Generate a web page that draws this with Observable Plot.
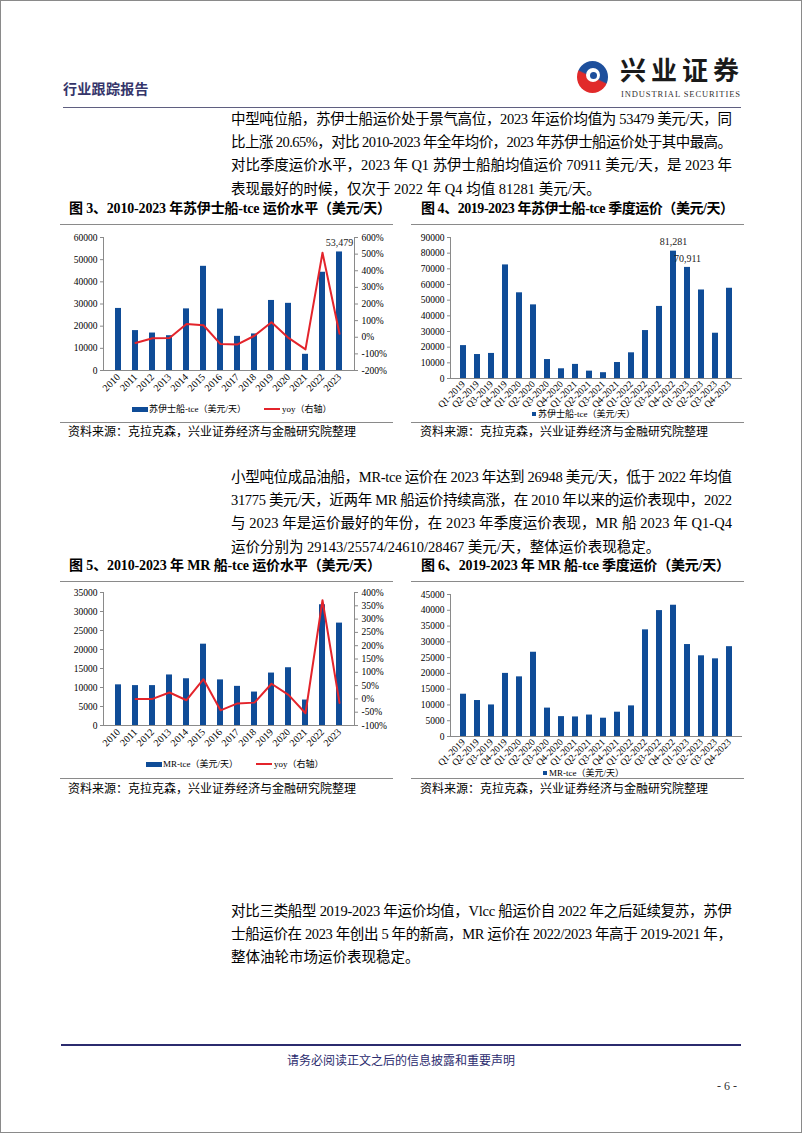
<!DOCTYPE html>
<html>
<head>
<meta charset="utf-8">
<script src="https://cdn.jsdelivr.net/npm/d3@7"></script>
<script src="https://cdn.jsdelivr.net/npm/@observablehq/plot@0.6"></script>
<style>
  html, body { margin: 0; padding: 0; background: #fff; }
  #page { position: relative; width: 800px; height: 1131px; border: 1px solid #8a8a8a; overflow: hidden;
          font-family: "Liberation Serif", "Times New Roman", "Noto Sans CJK SC", serif; color: #000; }
  .abs { position: absolute; }
  .line { position: absolute; height: 23.4px; line-height: 23.4px; font-size: 14.5px; white-space: nowrap; }
  .line span { display: inline-block; white-space: nowrap; }
  .ftitle { position: absolute; font-size: 14px; font-weight: bold; white-space: nowrap; line-height: 18px; }
  .ftitle span { display: inline-block; white-space: nowrap; }
  .rule { position: absolute; height: 0; border-top: 1px solid #8a8a8a; }
  .src { position: absolute; font-size: 12px; white-space: nowrap; line-height: 14px; }
  .legend { position: absolute; font-size: 9px; white-space: nowrap; line-height: 12px; display: flex; align-items: center; }
  .sw-bar { display: inline-block; width: 16px; height: 5px; background: #0f4c97; margin-right: 1px; }
  .sw-sq { display: inline-block; width: 4px; height: 4px; background: #0f4c97; margin-right: 2px; }
  .sw-line { display: inline-block; width: 16px; height: 2px; background: #e3242b; margin-right: 2px; margin-left: 18px; }
  .chart { position: absolute; }
  .chart svg { overflow: visible; }
</style>
</head>
<body>
<div id="page"></div>
<script>
// ---------------- DATA ----------------
const years = ["2010","2011","2012","2013","2014","2015","2016","2017","2018","2019","2020","2021","2022","2023"];
const quarters = ["Q1-2019","Q2-2019","Q3-2019","Q4-2019","Q1-2020","Q2-2020","Q3-2020","Q4-2020",
                  "Q1-2021","Q2-2021","Q3-2021","Q4-2021","Q1-2022","Q2-2022","Q3-2022","Q4-2022",
                  "Q1-2023","Q2-2023","Q3-2023","Q4-2023"];

// Fig 3: Suezmax TCE annual (USD/day) and yoy (%)
const suezAnnual = [28000,18000,16900,15700,27800,47000,27700,15400,16500,31600,30300,7300,44322,53479];
const suezYoy    = [null,-35,-6,-5,80,72,-41,-43,9,90,-4,-73,508,20.65];
const suezLeftTicks  = [0,10000,20000,30000,40000,50000,60000];
const suezRightTicks = [-200,-100,0,100,200,300,400,500,600];

// Fig 4: Suezmax TCE quarterly (USD/day)
const suezQuarter = [21000,15300,16000,72500,54700,47000,12100,6200,9000,4700,3700,10200,
                     16400,30600,46000,81281,70911,56500,28900,57600];
const suezQuarterLabels = {"Q4-2022":"81,281","Q1-2023":"70,911"};
const suezQLeftTicks = [0,10000,20000,30000,40000,50000,60000,70000,80000,90000];

// Fig 5: MR TCE annual (USD/day) and yoy (%)
const mrAnnual = [10700,10500,10500,13300,12300,21400,12000,10300,8800,13800,15200,6700,31775,26948];
const mrYoy    = [null,0,0,24,-5,74,-43,-17,-14,57,15,-54,371,-15];
const mrLeftTicks  = [0,5000,10000,15000,20000,25000,30000,35000];
const mrRightTicks = [-100,-50,0,50,100,150,200,250,300,350,400];

// Fig 6: MR TCE quarterly (USD/day)
const mrQuarter = [13400,11400,10000,20000,18900,26700,9000,6300,6200,6800,5800,7700,
                   9700,33800,39900,41600,29143,25574,24610,28467];
const mrQLeftTicks = [0,5000,10000,15000,20000,25000,30000,35000,40000,45000];

// Text
const para1 = [
  "中型吨位船，苏伊士船运价处于景气高位，2023 年运价均值为 53479 美元/天，同",
  "比上涨 20.65%，对比 2010-2023 年全年均价，2023 年苏伊士船运价处于其中最高。",
  "对比季度运价水平，2023 年 Q1 苏伊士船舶均值运价 70911 美元/天，是 2023 年",
  "表现最好的时候，仅次于 2022 年 Q4 均值 81281 美元/天。"
];
const para2 = [
  "小型吨位成品油船，MR-tce 运价在 2023 年达到 26948 美元/天，低于 2022 年均值",
  "31775 美元/天，近两年 MR 船运价持续高涨，在 2010 年以来的运价表现中，2022",
  "与 2023 年是运价最好的年份，在 2023 年季度运价表现，MR 船 2023 年 Q1-Q4",
  "运价分别为 29143/25574/24610/28467 美元/天，整体运价表现稳定。"
];
const para3 = [
  "对比三类船型 2019-2023 年运价均值，Vlcc 船运价自 2022 年之后延续复苏，苏伊",
  "士船运价在 2023 年创出 5 年的新高，MR 运价在 2022/2023 年高于 2019-2021 年，",
  "整体油轮市场运价表现稳定。"
];
const titles = [
  "图 3、2010-2023 年苏伊士船-tce 运价水平（美元/天）",
  "图 4、2019-2023 年苏伊士船-tce 季度运价（美元/天）",
  "图 5、2010-2023 年 MR 船-tce 运价水平（美元/天）",
  "图 6、2019-2023 年 MR 船-tce 季度运价（美元/天）"
];
const sourceText = "资料来源：克拉克森，兴业证券经济与金融研究院整理";

// ---------------- STYLE ----------------
const BLUE = "#0f4c97", RED = "#e3242b", AXIS = "#8a8a8a";
const FONT = "'Liberation Serif','Times New Roman',serif";
const page = document.getElementById("page");

function add(cls, html, css) {
  const d = document.createElement("div");
  d.className = cls; d.innerHTML = html; Object.assign(d.style, css);
  page.appendChild(d); return d;
}
function fit(span, target) {
  span.style.letterSpacing = "0px";
  const w = span.getBoundingClientRect().width;
  const n = [...span.textContent].length;
  span.style.letterSpacing = ((target - w) / (n - 1)) + "px";
}
function paragraph(lines, top, justifyLast) {
  lines.forEach((t, i) => {
    const d = add("line", `<span>${t}</span>`, {left: "230px", top: (top + i * 23.4) + "px"});
    if (i < lines.length - 1 || justifyLast) fit(d.firstChild, 501);
  });
}

// ---------------- HEADER ----------------
add("abs", "行业跟踪报告", {left: "62px", top: "77px", fontSize: "14px", fontWeight: "bold", color: "#35356a",
  fontFamily: "'Noto Sans CJK SC',sans-serif", letterSpacing: "0.3px"});
add("abs", "", {left: "576px", top: "60px", width: "31px", height: "32px", borderRadius: "50%",
  background: "linear-gradient(205deg, #1d4f9c 0 48%, #e12a2a 52% 100%)"});
add("abs", "", {left: "585px", top: "67px", width: "14px", height: "14px", borderRadius: "50%", background: "#fff"});
add("abs", "", {left: "589px", top: "71px", width: "7px", height: "7px", borderRadius: "50%", background: "#1d4f9c"});
const logoTxt = add("abs", "<span>兴业证券</span>", {left: "619px", top: "52px", fontSize: "26px", fontWeight: "bold",
  fontFamily: "'Noto Sans CJK SC',sans-serif", color: "#1a1a1a", lineHeight: "32px", whiteSpace: "nowrap"});
logoTxt.firstChild.style.display = "inline-block"; fit(logoTxt.firstChild, 119);
const logoSub = add("abs", "<span>INDUSTRIAL SECURITIES</span>", {left: "620px", top: "88px", fontSize: "8.5px",
  color: "#333", lineHeight: "10px", whiteSpace: "nowrap"});
logoSub.firstChild.style.display = "inline-block"; fit(logoSub.firstChild, 119);
add("abs", "", {left: "62px", top: "106px", width: "678px", height: "0", borderTop: "1.5px solid #5f5f80"});

// ---------------- BODY TEXT ----------------
paragraph(para1, 106.5, false);
paragraph(para2, 464.5, false);
paragraph(para3, 898.5, false);

// Figure titles
[[titles[0], 68, 199, 322], [titles[1], 420, 199, 313], [titles[2], 68, 556, 312], [titles[3], 420, 556, 309]]
  .forEach(([t, x, y, w]) => {
    const d = add("ftitle", `<span>${t}</span>`, {left: x + "px", top: y + "px"});
    fit(d.firstChild, w);
  });
// rules under titles and above sources
[[59, 223], [410, 223], [59, 580], [410, 580], [59, 421], [410, 421], [59, 777], [410, 777]].forEach(([x, y]) =>
  add("rule", "", {left: x + "px", top: y + "px", width: "333px"}));
[[67, 424], [419, 424], [67, 781], [419, 781]].forEach(([x, y]) => {
  const d = add("src", `<span style="display:inline-block">${sourceText}</span>`, {left: x + "px", top: y + "px"});
  fit(d.firstChild, 288);
});

// ---------------- CHARTS ----------------
const baseStyle = {fontFamily: FONT, fontSize: "9.5px", background: "transparent", color: "#000", overflow: "visible"};

function comboChart({cats, vals, yoy, leftTicks, rightTicks, yMax, rLo, rHi, left, top, height, mT, mB, label}) {
  const conv = v => (v - rLo) / (rHi - rLo) * yMax;
  const inv = v => Math.round(v / yMax * (rHi - rLo) + rLo);
  const data = cats.map((c, i) => ({cat: c, value: vals[i], yoy: yoy[i]}));
  const chart = Plot.plot({
    width: 340, height, marginLeft: 42, marginRight: 47, marginTop: mT, marginBottom: mB,
    style: baseStyle,
    x: {domain: cats, padding: 0.62, label: null},
    y: {domain: [0, yMax], label: null},
    marks: [
      Plot.barY(data, {x: "cat", y: "value", fill: BLUE}),
      Plot.ruleY([0], {stroke: AXIS}),
      Plot.frame({anchor: "left", stroke: AXIS}),
      Plot.frame({anchor: "right", stroke: AXIS}),
      Plot.line(data.filter(d => d.yoy != null), {x: "cat", y: d => conv(d.yoy), stroke: RED, strokeWidth: 2}),
      Plot.axisY(leftTicks, {anchor: "left", tickSize: 3, tickPadding: 3, stroke: AXIS, fill: "#000",
        tickFormat: d => String(d), label: null}),
      Plot.axisY(rightTicks.map(conv), {anchor: "right", tickSize: 3, tickPadding: 4, stroke: AXIS, fill: "#000",
        tickFormat: d => inv(d) + "%", label: null}),
      Plot.axisX({anchor: "bottom", tickRotate: -45, tickSize: 0, tickPadding: 5, fontSize: 10, fill: "#000", label: null}),
      ...(label ? [Plot.text(data.filter(d => d.cat === label.cat), {x: "cat", y: "value", text: () => label.text,
        dy: -9, fontSize: 10, fontFamily: FONT, fill: "#222"})] : [])
    ]
  });
  const wrap = add("chart", "", {left: left + "px", top: top + "px"});
  wrap.appendChild(chart);
}

function quarterChart({cats, vals, leftTicks, yMax, labels, left, top, height, mT, mB}) {
  const data = cats.map((c, i) => ({cat: c, value: vals[i], label: labels[c] || ""}));
  const chart = Plot.plot({
    width: 340, height, marginLeft: 39, marginRight: 9, marginTop: mT, marginBottom: mB,
    style: baseStyle,
    x: {domain: cats, padding: 0.56, label: null},
    y: {domain: [0, yMax], label: null},
    marks: [
      Plot.barY(data, {x: "cat", y: "value", fill: BLUE}),
      Plot.ruleY([0], {stroke: AXIS}),
      Plot.frame({anchor: "left", stroke: AXIS}),
      Plot.axisY(leftTicks, {anchor: "left", tickSize: 3, tickPadding: 3, stroke: AXIS, fill: "#000",
        tickFormat: d => String(d), label: null}),
      Plot.axisX({anchor: "bottom", tickRotate: -45, tickSize: 0, tickPadding: 4, fontSize: 9.5, fill: "#000", label: null}),
      Plot.text(data.filter(d => d.label), {x: "cat", y: "value", text: "label", dy: -9, fontSize: 10,
        fontFamily: FONT, fill: "#222"})
    ]
  });
  const wrap = add("chart", "", {left: left + "px", top: top + "px"});
  wrap.appendChild(chart);
}

// Fig 3
comboChart({cats: years, vals: suezAnnual, yoy: suezYoy, leftTicks: suezLeftTicks, rightTicks: suezRightTicks,
  yMax: 60000, rLo: -200, rHi: 600, left: 60, top: 228, height: 171, mT: 8, mB: 30,
  label: {cat: "2023", text: "53,479"}});
// Fig 4
quarterChart({cats: quarters, vals: suezQuarter, leftTicks: suezQLeftTicks, yMax: 90000, labels: suezQuarterLabels,
  left: 410, top: 228, height: 181, mT: 8, mB: 32});
// Fig 5
comboChart({cats: years, vals: mrAnnual, yoy: mrYoy, leftTicks: mrLeftTicks, rightTicks: mrRightTicks,
  yMax: 35000, rLo: -100, rHi: 400, left: 60, top: 582, height: 172, mT: 9, mB: 30, label: null});
// Fig 6
quarterChart({cats: quarters, vals: mrQuarter, leftTicks: mrQLeftTicks, yMax: 45000, labels: {},
  left: 410, top: 582, height: 183, mT: 11, mB: 30});

// Legends
add("legend", `<span class="sw-bar"></span><span>苏伊士船-tce（美元/天）</span><span class="sw-line"></span><span>yoy（右轴）</span>`,
  {left: "131px", top: "402px"});
add("legend", `<span class="sw-sq"></span><span>苏伊士船-tce（美元/天）</span>`, {left: "531px", top: "407px"});
add("legend", `<span class="sw-bar"></span><span>MR-tce（美元/天）</span><span class="sw-line"></span><span>yoy（右轴）</span>`,
  {left: "145px", top: "757px"});
add("legend", `<span class="sw-sq"></span><span>MR-tce（美元/天）</span>`, {left: "542px", top: "766px"});

// ---------------- FOOTER ----------------
add("abs", "", {left: "60px", top: "1043px", width: "680px", height: "0", borderTop: "2px solid #2b2b6e"});
add("abs", "请务必阅读正文之后的信息披露和重要声明", {left: "0", width: "800px", textAlign: "center", top: "1051px",
  fontSize: "12px", color: "#2b2b6e", fontFamily: "'Noto Sans CJK SC',sans-serif", lineHeight: "16px"});
add("abs", "- 6 -", {left: "716px", top: "1078px", fontSize: "12px", color: "#333", lineHeight: "14px"});
</script>
</body>
</html>
